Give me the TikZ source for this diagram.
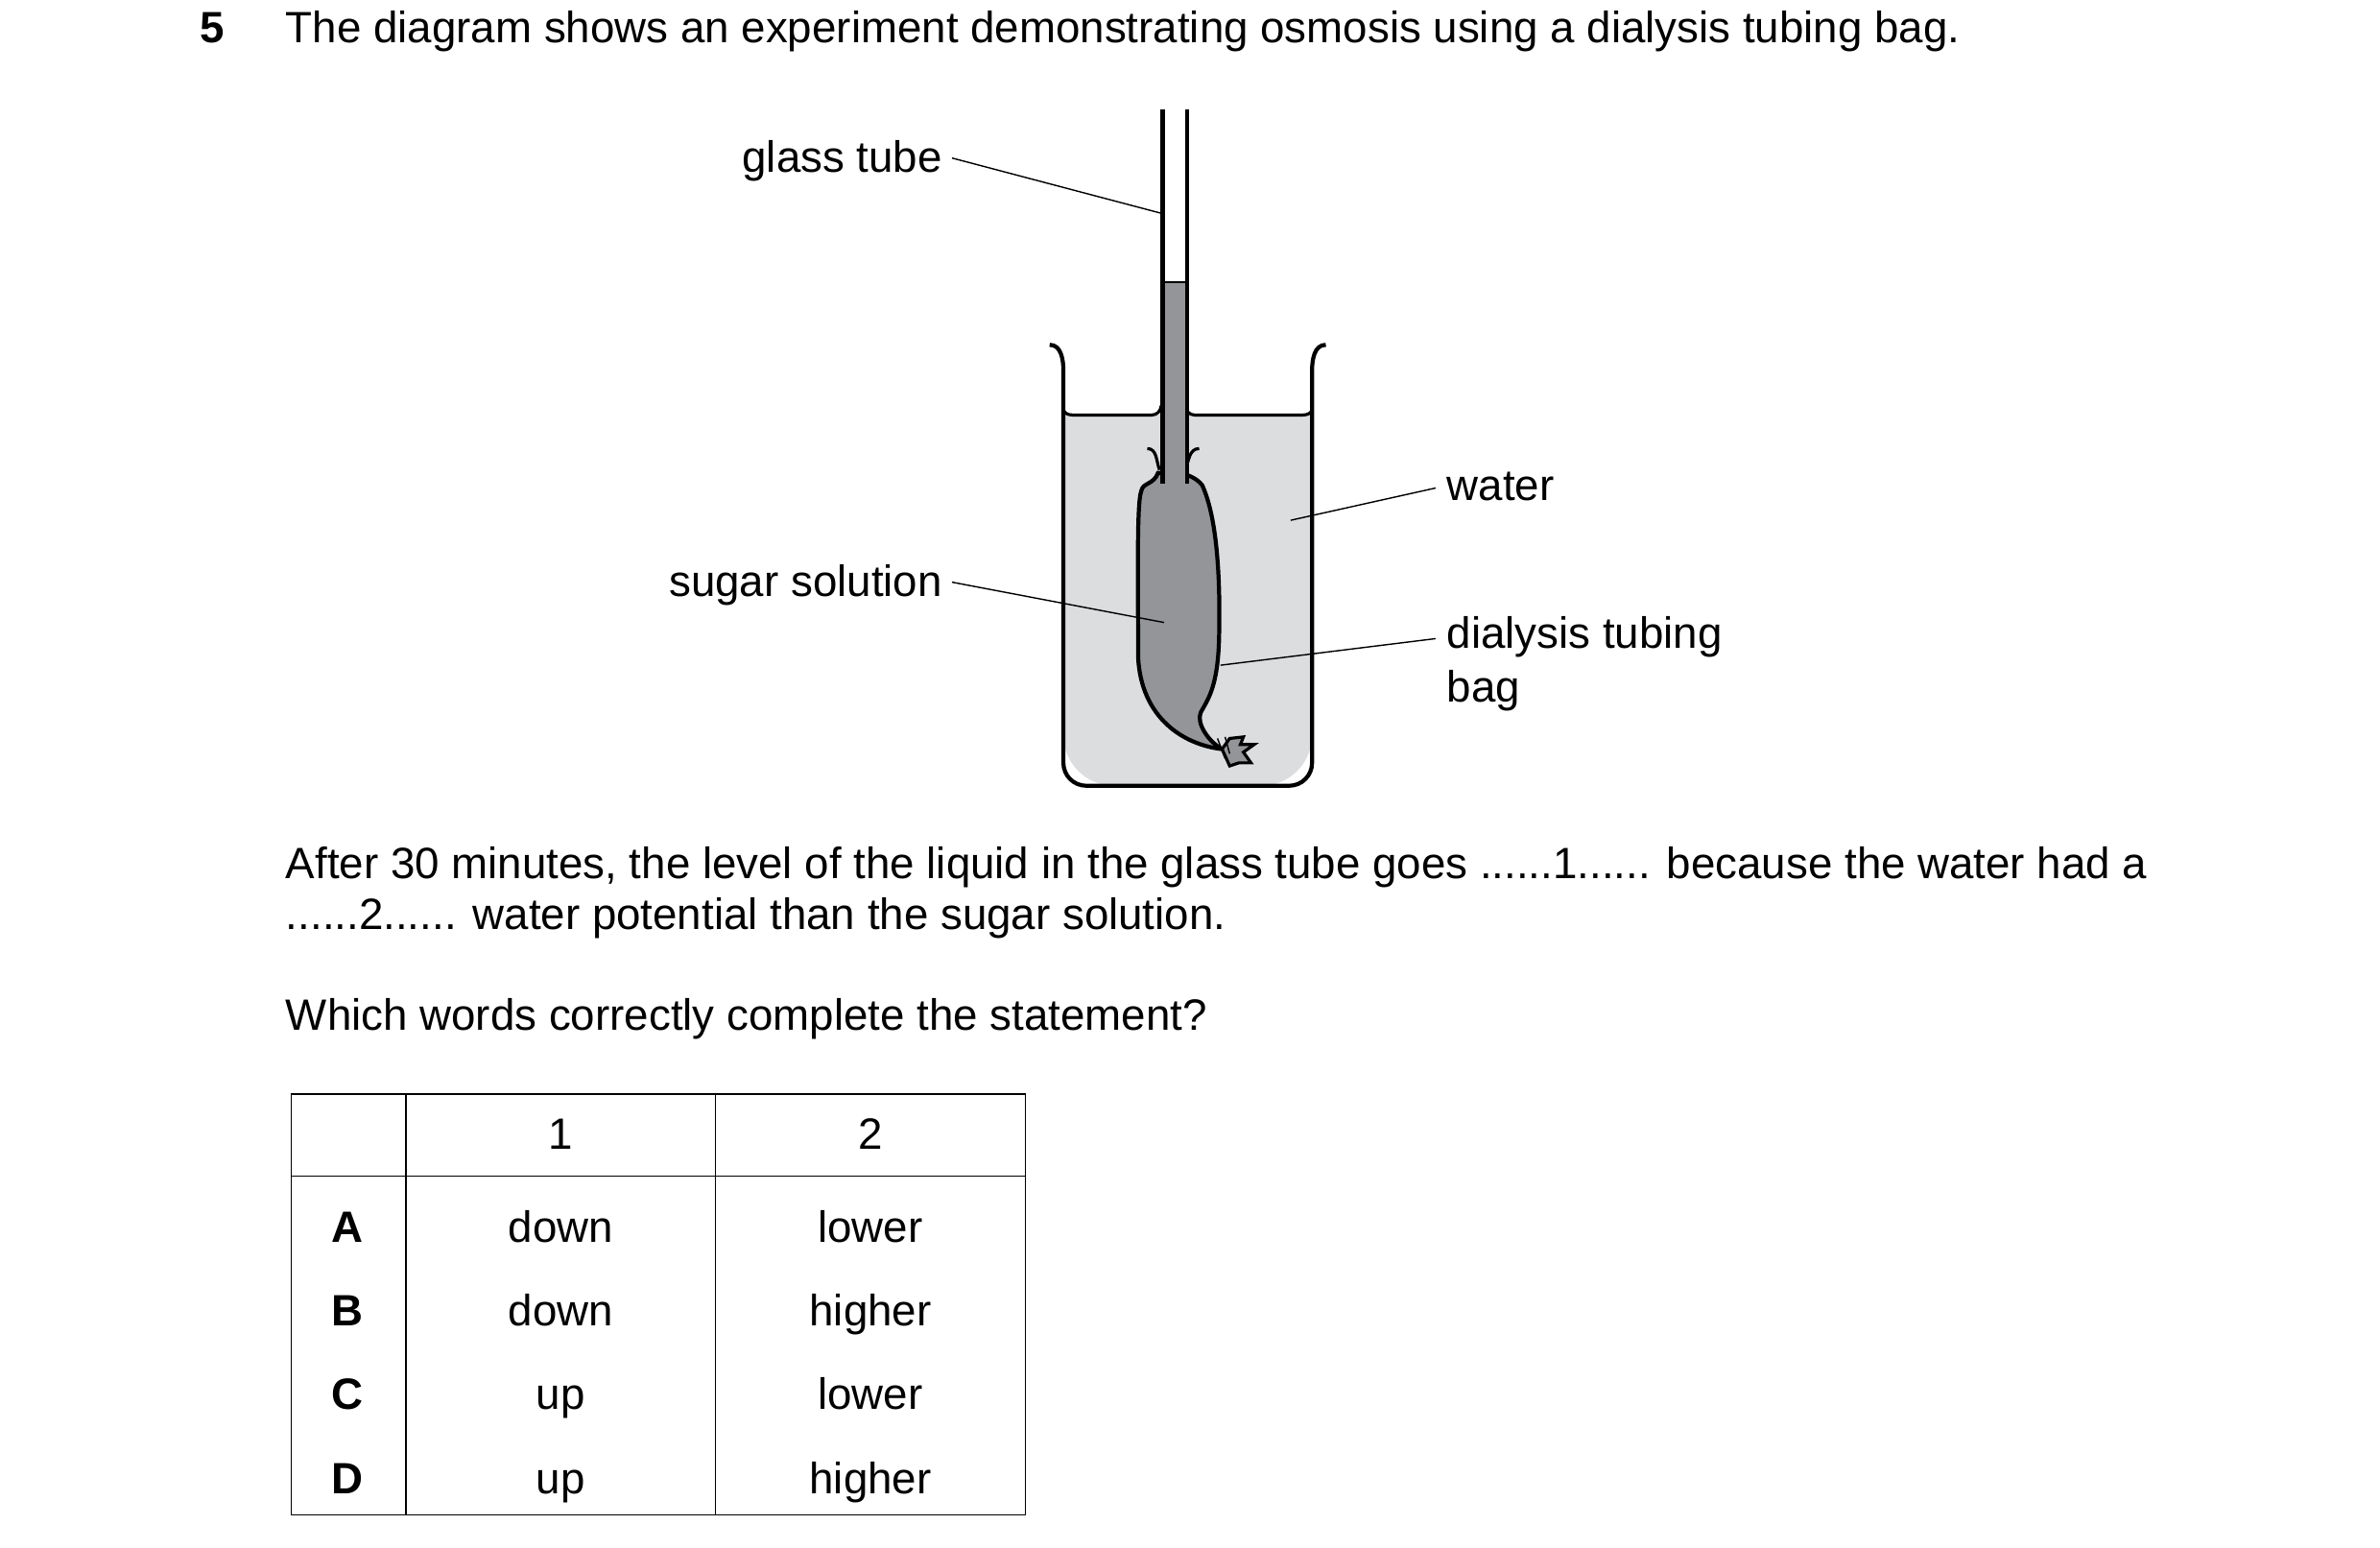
\documentclass[tikz,border=0pt]{standalone}
\usepackage{fontspec}
\setmainfont{Liberation Sans}
\usetikzlibrary{positioning}
\usetikzlibrary{calc}
\definecolor{waterGrey}{HTML}{DCDDDF}
\definecolor{sugarGrey}{HTML}{939598}
\begin{document}
\begin{tikzpicture}[x=0.0159cm, y=-0.0159cm]

\def\TextSize{\fontsize{13pt}{15pt}\selectfont}

% Styles
\tikzstyle{txt} =
	[font=\TextSize, inner sep=0pt, anchor=base west]

\tikzstyle{label line} =
	[thin, black]

\tikzstyle{outline} =
	[line width=1.2pt, black]

\tikzstyle{cell} =
	[font=\TextSize, inner sep=0pt, anchor=base]

\useasboundingbox (0,0) rectangle (1560,1014);

% Question
\node (Number) [txt, font=\TextSize\bfseries] at (131,28) {5};
\node (Question) [txt] at (187,28)
	{The diagram shows an experiment demonstrating osmosis using a dialysis tubing bag.};

% Beaker and water
\fill[waterGrey, rounded corners=15] (697,272) -- (697,515) -- (860,515) -- (860,272);
\fill[waterGrey] (697,272) rectangle (860,300);
\draw[outline] (688,226) to[out=0,in=90] (697,243) -- (697,500)
	to[out=-90,in=180] (712,515) -- (845,515) to[out=0,in=-90] (860,500)
	-- (860,243) to[out=90,in=180] (869,226);
\draw[outline, line width=0.9pt] (697,268) to[out=-90,in=180] (703,272) -- (755,272)
	to[out=0,in=-90] (761,266);
\draw[outline, line width=0.9pt] (777,266) to[out=-90,in=180] (783,272) -- (854,272)
	to[out=0,in=-90] (860,268);

% Dialysis tubing bag
\coordinate (Knot) at (801,491);
\filldraw[outline, fill=sugarGrey] (759,310) .. controls (756,318) and (749,316) .. (748,322)
	.. controls (745,330) and (746,380) .. (746,431)
	.. controls (748,470) and (775,488) .. (Knot)
	.. controls (792,486) and (784,474) .. (787,467)
	.. controls (792,458) and (798,450) .. (799,420)
	.. controls (800,380) and (798,340) .. (788,318)
	.. controls (783,312) and (778,312) .. (776,310) -- cycle;
\draw[outline, line width=0.9pt] (752,294) to[out=0,in=110] (760,308);
\draw[outline, line width=0.9pt] (786,294) to[out=180,in=70] (777,308);
\filldraw[outline, line width=0.9pt, fill=sugarGrey] (Knot) -- (806,484)
	-- (815,483) -- (813,488) -- (822,488) -- (815,493) -- (820,500)
	-- (812,500) -- (806,502) -- cycle;
\draw[thin] (798,484) -- (803,497) (803,483) -- (806,494);

% Glass tube
\fill[sugarGrey] (763,185) rectangle (777,317);
\draw[thin] (763,185) -- (777,185);
\draw[outline] (762,72) -- (762,317);
\draw[outline] (778,72) -- (778,317);

% Labels
\node (GlassTube) [txt, anchor=base east] at (618,113) {glass tube};
\node (Water) [txt] at (948,328) {water};
\node (Sugar) [txt, anchor=base east] at (618,391) {sugar solution};
\node (Dialysis) [txt] at (948,425) {dialysis tubing};
\node (Bag) [txt] at (948,460) {bag};

\coordinate (TubePoint) at (762,140);
\coordinate (WaterPoint) at (846,341);
\coordinate (SugarPoint) at (763,408);
\coordinate (BagPoint) at (800,436);
\draw[label line] ($(GlassTube.east)+(6,-2)$) -- (TubePoint);
\draw[label line] ($(Water.west)+(-7,1)$) -- (WaterPoint);
\draw[label line] ($(Sugar.east)+(6,-2)$) -- (SugarPoint);
\draw[label line] ($(Dialysis.west)+(-7,1)$) -- (BagPoint);

% Statement
\node (After) [txt] at (187,576)
	{After 30 minutes, the level of the liquid in the glass tube goes ......1...... because the water had a};
\node (After2) [txt] at (187,609)
	{......2...... water potential than the sugar solution.};
\node (Which) [txt] at (187,675) {Which words correctly complete the statement?};

% Table
\draw[thin] (191,717) rectangle (672,993);
\draw[thin] (191,771) -- (672,771);
\draw[thin] (266,717) -- (266,993);
\draw[thin] (469,717) -- (469,993);
\node (HeadOne) [cell] at (367.5,753) {1};
\node (HeadTwo) [cell] at (570.5,753) {2};
\foreach \Letter/\One/\Two [count=\Row] in {A/down/lower, B/down/higher, C/up/lower, D/up/higher} {
	\node (Row\Letter) [cell, font=\TextSize\bfseries] at (228,{759+55*\Row}) {\Letter};
	\node (One\Letter) [cell] at (367.5,{759+55*\Row}) {\One};
	\node (Two\Letter) [cell] at (570.5,{759+55*\Row}) {\Two};
}

\end{tikzpicture}
\end{document}
